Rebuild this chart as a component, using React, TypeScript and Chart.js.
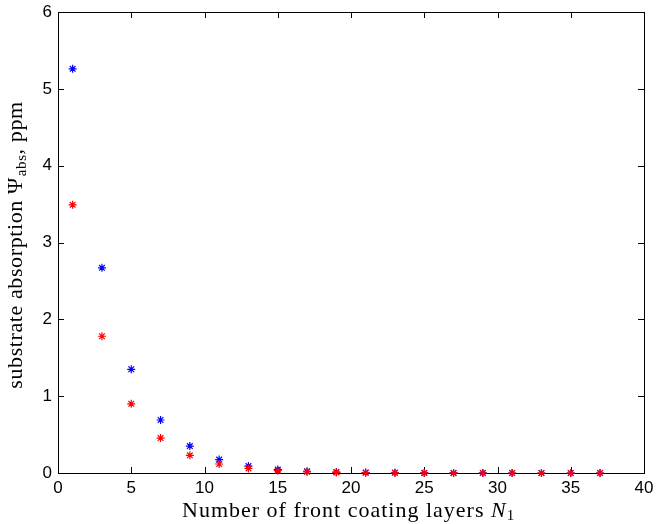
import React, { useEffect, useRef } from "react";
import { Chart, registerables } from "chart.js";

Chart.register(...registerables);

const layers = [1, 3, 5, 7, 9, 11, 13, 15, 17, 19, 21, 23, 25, 27, 29, 31, 33, 35, 37];
const blueSeries = [5.26, 2.67, 1.35, 0.69, 0.35, 0.175, 0.09, 0.045, 0.023, 0.012, 0.006, 0.003, 0.0015, 0.0008, 0.0004, 0.0002, 0.0001, 0.00005, 0.00003];
const redSeries = [3.49, 1.78, 0.9, 0.455, 0.23, 0.117, 0.06, 0.03, 0.015, 0.008, 0.004, 0.002, 0.001, 0.0005, 0.00025, 0.00013, 0.00006, 0.00003, 0.00002];
const xTitleMain = "Number of front coating layers ";
const xTitleVar = "N";
const xTitleSub = "1";
const yTitleMain = "substrate absorption ";
const yTitleVar = "Ψ";
const yTitleSub = "abs";
const yTitleEnd = ", ppm";

const TICK_FONT = "Liberation Sans, Arial, sans-serif";
const TITLE_FONT = "Liberation Serif, DejaVu Serif, serif";

const boxPlugin = {
  id: "matlabBox",
  beforeDatasetsDraw(chart: any) {
    const { ctx, chartArea: a, scales } = chart;
    ctx.save();
    ctx.strokeStyle = "#000";
    ctx.lineWidth = 1;
    const tl = 6;
    ctx.beginPath();
    scales.x.ticks.forEach((t: any) => {
      const px = Math.round(scales.x.getPixelForValue(t.value)) + 0.5;
      ctx.moveTo(px, a.bottom);
      ctx.lineTo(px, a.bottom - tl);
      ctx.moveTo(px, a.top);
      ctx.lineTo(px, a.top + tl);
    });
    scales.y.ticks.forEach((t: any) => {
      const py = Math.round(scales.y.getPixelForValue(t.value)) + 0.5;
      ctx.moveTo(a.left, py);
      ctx.lineTo(a.left + tl, py);
      ctx.moveTo(a.right, py);
      ctx.lineTo(a.right - tl, py);
    });
    ctx.stroke();
    ctx.strokeRect(Math.round(a.left) + 0.5, Math.round(a.top) + 0.5, Math.round(a.right - a.left), Math.round(a.bottom - a.top));
    ctx.restore();
  },
  afterDraw(chart: any) {
    const { ctx } = chart;
    ctx.save();
    ctx.fillStyle = "#000";
    ctx.textBaseline = "alphabetic";
    ctx.textAlign = "left";
    const big = "22px " + TITLE_FONT;
    const bigIt = "italic 22px " + TITLE_FONT;
    const small = "15px " + TITLE_FONT;
    (ctx as any).letterSpacing = "1px";

    // x title
    ctx.font = big;
    const w1 = ctx.measureText(xTitleMain).width;
    ctx.font = bigIt;
    const w2 = ctx.measureText(xTitleVar).width;
    const x0 = 182;
    const yb = 517;
    ctx.font = big;
    ctx.fillText(xTitleMain, x0, yb);
    ctx.font = bigIt;
    ctx.fillText(xTitleVar, x0 + w1, yb);
    ctx.font = small;
    ctx.fillText(xTitleSub, x0 + w1 + w2, yb + 3);

    // y title
    (ctx as any).letterSpacing = "0.6px";
    ctx.translate(22, 245);
    ctx.rotate(-Math.PI / 2);
    ctx.font = big;
    const v1 = ctx.measureText(yTitleMain).width;
    const v2 = ctx.measureText(yTitleVar).width;
    const v4 = ctx.measureText(yTitleEnd).width;
    ctx.font = small;
    const v3 = ctx.measureText(yTitleSub).width;
    const tot = v1 + v2 + v3 + v4 + 1;
    const s = -tot / 2;
    ctx.font = big;
    ctx.fillText(yTitleMain, s, 0);
    ctx.fillText(yTitleVar, s + v1, 0);
    ctx.font = small;
    ctx.fillText(yTitleSub, s + v1 + v2 + 1, 4);
    ctx.font = big;
    ctx.fillText(yTitleEnd, s + v1 + v2 + v3 + 1, 0);
    ctx.restore();
  },
};

export default function App() {
  const ref = useRef<HTMLCanvasElement>(null);
  useEffect(() => {
    document.body.style.margin = "0";
    const chart = new Chart(ref.current!, {
      type: "scatter",
      data: {
        datasets: [
          {
            data: layers.map((x, i) => ({ x, y: blueSeries[i] })),
            borderColor: "#0000ff",
            backgroundColor: "#0000ff",
            pointStyle: "star",
            pointRadius: 4,
            borderWidth: 1.2,
            clip: false as any,
            order: 2,
          },
          {
            data: layers.map((x, i) => ({ x, y: redSeries[i] })),
            borderColor: "#ff0000",
            backgroundColor: "#ff0000",
            pointStyle: "star",
            pointRadius: 4,
            borderWidth: 1.2,
            clip: false as any,
            order: 1,
          },
        ],
      },
      options: {
        responsive: false,
        animation: false,
        layout: { padding: { top: 12, right: 13, left: 0, bottom: 0 } },
        plugins: { legend: { display: false }, tooltip: { enabled: false } },
        scales: {
          x: {
            type: "linear",
            min: 0,
            max: 40,
            border: { display: false },
            grid: { display: false, drawTicks: false },
            ticks: { stepSize: 5, color: "#000", padding: 5, font: { family: TICK_FONT, size: 17 } },
            afterFit: (s: any) => { s.height = 51; s.paddingLeft = 0; s.paddingRight = 0; },
          },
          y: {
            type: "linear",
            min: 0,
            max: 6,
            border: { display: false },
            grid: { display: false, drawTicks: false },
            ticks: { stepSize: 1, color: "#000", padding: 6, font: { family: TICK_FONT, size: 17 } },
            afterFit: (s: any) => { s.width = 58; s.paddingTop = 0; s.paddingBottom = 0; },
          },
        },
      },
      plugins: [boxPlugin],
    });
    return () => chart.destroy();
  }, []);
  return <canvas ref={ref} width={657} height={524} style={{ display: "block" }} />;
}
